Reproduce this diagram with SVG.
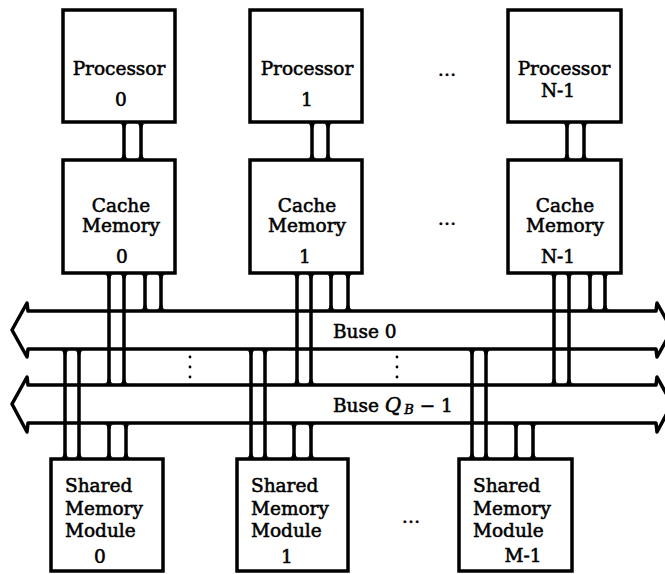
<svg xmlns="http://www.w3.org/2000/svg" xmlns:xlink="http://www.w3.org/1999/xlink" width="665" height="574" viewBox="0 0 665 574">
<style>
.box{fill:#fff;stroke:#000;stroke-width:3.5}
.bus{fill:none;stroke:#000;stroke-width:3.5;stroke-linejoin:round}
.ln{stroke:#000;stroke-width:3.5;fill:none}
.t{font-family:"DejaVu Serif","Liberation Serif",serif;font-size:18.5px;fill:#000;stroke:#000;stroke-width:0.55}
.c{text-anchor:middle}
.dot{fill:#000}
</style>
<defs>
<path id="ft" d="M-5.5,1.5 H5.5 Q1.5,1.5 1.5,5.5 H-1.5 Q-1.5,1.5 -5.5,1.5 Z" fill="#000"/>
<path id="fb" d="M-5.5,-1.5 H5.5 Q1.5,-1.5 1.5,-5.5 H-1.5 Q-1.5,-1.5 -5.5,-1.5 Z" fill="#000"/>
</defs>
<rect width="665" height="574" fill="#fff"/>

<g id="connectors">
  <g id="buses">
    <path class="bus" d="M28,311 H656 L657,303 L672,330 L657,357 L656,349 H28 L27,357 L12,330 L27,303 Z"/>
    <path class="bus" d="M28,385 H656 L657,377 L672,404 L657,432 L656,423 H28 L27,432 L12,404 L27,377 Z"/>
  </g>
  <!-- processor to cache -->
  <path class="ln" d="M124,122 V160 M141,122 V160 M312,122 V160 M328,122 V160 M567,122 V160 M584,122 V160"/>
  <!-- cache long to bus Q_B-1 -->
  <path class="ln" d="M109,273 V385 M124,273 V385 M297,273 V385 M311,273 V385 M554,273 V385 M569,273 V385"/>
  <!-- cache short to bus 0 -->
  <path class="ln" d="M145,273 V311 M161,273 V311 M331,273 V311 M348,273 V311 M590,273 V311 M605,273 V311"/>
  <!-- shared memory long from bus 0 -->
  <path class="ln" d="M65,349 V459 M79,349 V459 M251,349 V459 M265,349 V459 M472,349 V459 M486,349 V459"/>
  <!-- shared memory short from bus Q_B-1 -->
  <path class="ln" d="M109,423 V459 M126,423 V459 M294,423 V459 M311,423 V459 M516,423 V459 M533,423 V459"/>
  <!-- feet: top ends -->
  <use xlink:href="#ft" x="124" y="122"/><use xlink:href="#ft" x="141" y="122"/>
  <use xlink:href="#ft" x="312" y="122"/><use xlink:href="#ft" x="328" y="122"/>
  <use xlink:href="#ft" x="567" y="122"/><use xlink:href="#ft" x="584" y="122"/>
  <use xlink:href="#ft" x="109" y="273"/><use xlink:href="#ft" x="124" y="273"/>
  <use xlink:href="#ft" x="297" y="273"/><use xlink:href="#ft" x="311" y="273"/>
  <use xlink:href="#ft" x="554" y="273"/><use xlink:href="#ft" x="569" y="273"/>
  <use xlink:href="#ft" x="145" y="273"/><use xlink:href="#ft" x="161" y="273"/>
  <use xlink:href="#ft" x="331" y="273"/><use xlink:href="#ft" x="348" y="273"/>
  <use xlink:href="#ft" x="590" y="273"/><use xlink:href="#ft" x="605" y="273"/>
  <use xlink:href="#ft" x="65" y="349"/><use xlink:href="#ft" x="79" y="349"/>
  <use xlink:href="#ft" x="251" y="349"/><use xlink:href="#ft" x="265" y="349"/>
  <use xlink:href="#ft" x="472" y="349"/><use xlink:href="#ft" x="486" y="349"/>
  <use xlink:href="#ft" x="109" y="423"/><use xlink:href="#ft" x="126" y="423"/>
  <use xlink:href="#ft" x="294" y="423"/><use xlink:href="#ft" x="311" y="423"/>
  <use xlink:href="#ft" x="516" y="423"/><use xlink:href="#ft" x="533" y="423"/>
  <!-- feet: bottom ends -->
  <use xlink:href="#fb" x="124" y="160"/><use xlink:href="#fb" x="141" y="160"/>
  <use xlink:href="#fb" x="312" y="160"/><use xlink:href="#fb" x="328" y="160"/>
  <use xlink:href="#fb" x="567" y="160"/><use xlink:href="#fb" x="584" y="160"/>
  <use xlink:href="#fb" x="109" y="385"/><use xlink:href="#fb" x="124" y="385"/>
  <use xlink:href="#fb" x="297" y="385"/><use xlink:href="#fb" x="311" y="385"/>
  <use xlink:href="#fb" x="554" y="385"/><use xlink:href="#fb" x="569" y="385"/>
  <use xlink:href="#fb" x="145" y="311"/><use xlink:href="#fb" x="161" y="311"/>
  <use xlink:href="#fb" x="331" y="311"/><use xlink:href="#fb" x="348" y="311"/>
  <use xlink:href="#fb" x="590" y="311"/><use xlink:href="#fb" x="605" y="311"/>
  <use xlink:href="#fb" x="65" y="459"/><use xlink:href="#fb" x="79" y="459"/>
  <use xlink:href="#fb" x="251" y="459"/><use xlink:href="#fb" x="265" y="459"/>
  <use xlink:href="#fb" x="472" y="459"/><use xlink:href="#fb" x="486" y="459"/>
  <use xlink:href="#fb" x="109" y="459"/><use xlink:href="#fb" x="126" y="459"/>
  <use xlink:href="#fb" x="294" y="459"/><use xlink:href="#fb" x="311" y="459"/>
  <use xlink:href="#fb" x="516" y="459"/><use xlink:href="#fb" x="533" y="459"/>
</g>

<g id="bus-labels">
  <text class="t" x="333" y="338" font-size="19">Buse 0</text>
  <text class="t" x="333" y="412" font-size="19">Buse <tspan font-style="italic" font-size="20">Q</tspan><tspan font-style="italic" font-size="13" dx="3" dy="2">B</tspan><tspan dy="-2"> − 1</tspan></text>
  <g class="dot">
    <circle cx="190" cy="357" r="1.4"/><circle cx="190" cy="367" r="1.4"/><circle cx="190" cy="377" r="1.4"/>
    <circle cx="397" cy="357" r="1.4"/><circle cx="397" cy="367" r="1.4"/><circle cx="397" cy="377" r="1.4"/>
  </g>
</g>

<g id="proc0"><rect class="box" x="63" y="10" width="112" height="112"/>
  <text class="t c" x="119" y="75">Processor</text><text class="t c" x="121" y="106">0</text></g>
<g id="proc1"><rect class="box" x="250" y="10" width="112" height="112"/>
  <text class="t c" x="307" y="75">Processor</text><text class="t c" x="307" y="106">1</text></g>
<g id="procN"><rect class="box" x="508" y="10" width="113" height="112"/>
  <text class="t c" x="564" y="75">Processor</text><text class="t c" x="558" y="97">N-1</text></g>

<g id="cache0"><rect class="box" x="63" y="160" width="112" height="113"/>
  <text class="t c" x="121" y="212">Cache</text><text class="t c" x="121" y="232">Memory</text><text class="t c" x="122" y="263">0</text></g>
<g id="cache1"><rect class="box" x="250" y="160" width="112" height="113"/>
  <text class="t c" x="307" y="212">Cache</text><text class="t c" x="307" y="232">Memory</text><text class="t c" x="305" y="263">1</text></g>
<g id="cacheN"><rect class="box" x="508" y="160" width="113" height="113"/>
  <text class="t c" x="565" y="212">Cache</text><text class="t c" x="565" y="232">Memory</text><text class="t c" x="558" y="263">N-1</text></g>

<g id="sm0"><rect class="box" x="51" y="459" width="112" height="112"/>
  <text class="t" x="65" y="492" font-size="19">Shared</text><text class="t" x="65" y="515" font-size="19">Memory</text><text class="t" x="65" y="537" font-size="19">Module</text><text class="t c" x="100" y="563" font-size="19">0</text></g>
<g id="sm1"><rect class="box" x="237" y="459" width="111" height="112"/>
  <text class="t" x="251" y="492" font-size="19">Shared</text><text class="t" x="251" y="515" font-size="19">Memory</text><text class="t" x="251" y="537" font-size="19">Module</text><text class="t c" x="287" y="563" font-size="19">1</text></g>
<g id="smM"><rect class="box" x="459" y="459" width="113" height="112"/>
  <text class="t" x="473" y="492" font-size="19">Shared</text><text class="t" x="473" y="515" font-size="19">Memory</text><text class="t" x="473" y="537" font-size="19">Module</text><text class="t c" x="523" y="562" font-size="19">M-1</text></g>

<g id="ellipses">
  <text class="t c" x="447" y="76">…</text>
  <text class="t c" x="447" y="225">…</text>
  <text class="t c" x="411" y="523">…</text>
</g>
</svg>
